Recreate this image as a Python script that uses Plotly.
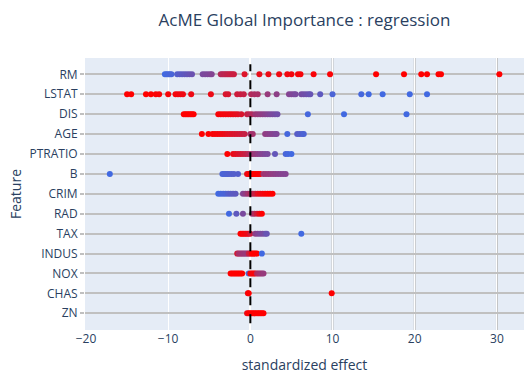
import plotly.graph_objects as go

# Feature order, bottom to top on the y axis
features = ["ZN", "CHAS", "NOX", "INDUS", "TAX", "RAD", "CRIM",
            "B", "PTRATIO", "AGE", "DIS", "LSTAT", "RM"]

# Standardized effect of each quantile, and the quantile itself (0 = low, 1 = high)
rm_effect = [-10.4, -10.2, -10.0, -9.8, -9.6, -8.9, -8.6, -8.3, -8.0, -7.7, -7.4, -7.1,
             -5.8, -5.5, -5.2, -4.9, -4.7, -3.6, -3.4, -3.2, -3.0, -2.8, -2.6, -2.4,
             -2.2, -2.0, -0.7, 1.1, 2.2, 3.5, 4.5, 5.0, 5.8, 6.1, 7.7, 9.7, 15.3,
             18.7, 20.8, 21.5, 22.9, 23.2, 30.3]
rm_q = [0.0, 0.01, 0.02, 0.03, 0.04, 0.1, 0.12, 0.14, 0.16, 0.18, 0.2, 0.22,
        0.3, 0.31, 0.32, 0.33, 0.35, 0.6, 0.62, 0.64, 0.65, 0.67, 0.68, 0.7,
        0.71, 0.72, 0.82, 0.88, 0.9, 0.92, 0.93, 0.94, 0.95, 0.96, 0.97, 0.98, 1.0,
        1.0, 1.0, 1.0, 1.0, 1.0, 1.0]

lstat_effect = [-15.0, -14.5, -12.7, -12.1, -11.5, -11.1, -10.0, -9.1, -8.8, -8.5, -8.2,
                -7.2, -4.8, -3.0, -2.7, -1.6, -1.2, -0.8, 0.1, 0.5, 0.9, 2.1, 3.2,
                4.7, 5.0, 5.3, 5.5, 6.2, 6.5, 6.8, 7.1, 7.3, 8.5, 10.0, 13.5, 14.4,
                16.1, 19.4, 21.5]
lstat_q = [1.0, 1.0, 1.0, 1.0, 0.98, 0.97, 0.96, 0.95, 0.94, 0.93, 0.92,
           0.91, 0.9, 0.8, 0.79, 0.74, 0.72, 0.7, 0.6, 0.57, 0.55, 0.45, 0.4,
           0.35, 0.33, 0.32, 0.3, 0.28, 0.26, 0.24, 0.22, 0.2, 0.15, 0.05, 0.02, 0.0,
           0.0, 0.0, 0.0]

dis_effect = [-8.1, -7.9, -7.7, -7.5, -7.3, -7.1, -6.9, -3.9, -3.6, -3.3, -3.0, -2.7,
              -2.4, -2.1, -1.8, -1.5, -1.1, -0.4, -0.1, 0.2, 0.6, 0.9, 1.2, 1.5, 1.8,
              2.1, 2.4, 2.7, 3.0, 3.3, 7.0, 11.4, 19.0]
dis_q = [1.0, 1.0, 1.0, 1.0, 1.0, 1.0, 1.0, 0.97, 0.96, 0.95, 0.94, 0.93,
         0.92, 0.9, 0.88, 0.86, 0.8, 0.7, 0.65, 0.6, 0.5, 0.47, 0.44, 0.41, 0.38,
         0.35, 0.32, 0.3, 0.28, 0.25, 0.02, 0.0, 0.0]

age_effect = [-5.9, -5.1, -4.6, -4.3, -4.0, -3.7, -3.4, -3.1, -2.8, -2.5, -2.2, -1.9,
              -1.6, -1.3, -1.0, -0.7, 0.0, 0.3, 1.8, 2.1, 2.4, 2.7, 3.0, 3.2, 4.5,
              5.7, 6.0, 6.3, 6.5]
age_q = [1.0, 1.0, 0.98, 0.96, 0.95, 0.94, 0.92, 0.9, 0.86, 0.84, 0.82, 0.8,
         0.78, 0.76, 0.73, 0.7, 0.55, 0.52, 0.42, 0.4, 0.38, 0.36, 0.34, 0.32, 0.02,
         0.12, 0.1, 0.08, 0.06]

ptratio_effect = [-2.8, -2.1, -1.8, -1.5, -1.2, -0.9, -0.6, -0.3, 0.0, 0.3, 0.6, 0.9,
                  1.2, 1.5, 1.8, 2.1, 3.0, 4.3, 4.6, 5.0]
ptratio_q = [1.0, 0.9, 0.86, 0.82, 0.78, 0.74, 0.7, 0.65, 0.55, 0.5, 0.46, 0.42,
             0.38, 0.35, 0.32, 0.3, 0.18, 0.04, 0.02, 0.0]

b_effect = [-17.1, -3.4, -3.2, -3.0, -2.8, -2.6, -2.3, -2.0, -1.5, -0.4, -0.2, 0.0,
            0.2, 0.4, 0.6, 0.8, 1.0, 1.2, 1.6, 1.9, 2.2, 2.5, 2.8, 3.1, 3.4, 3.7,
            4.0, 4.3]
b_q = [0.0, 0.05, 0.05, 0.06, 0.07, 0.08, 0.09, 0.1, 0.1, 0.9, 0.95, 1.0,
       1.0, 1.0, 1.0, 1.0, 0.98, 0.96, 0.5, 0.48, 0.46, 0.44, 0.42, 0.4, 0.38, 0.37,
       0.36, 0.35]

crim_effect = [-3.9, -3.6, -3.3, -3.0, -2.7, -2.4, -2.1, -1.8, -0.9, -0.6, -0.3, 0.0,
               0.3, 0.6, 0.9, 1.2, 1.5, 1.8, 2.1, 2.4, 2.7]
crim_q = [0.0, 0.02, 0.04, 0.05, 0.1, 0.12, 0.14, 0.15, 0.35, 0.42, 0.5, 0.58,
          0.65, 0.72, 0.85, 0.9, 0.93, 0.96, 0.98, 1.0, 1.0]

rad_effect = [-2.6, -1.7, -0.9, 0.2, 0.5, 0.8, 1.1, 1.4]
rad_q = [0.0, 0.15, 0.3, 0.45, 0.6, 0.75, 0.9, 1.0]

tax_effect = [-1.2, -1.0, -0.8, -0.6, -0.4, -0.2, 0.0, 0.6, 0.9, 1.2, 1.5, 1.8, 2.0, 6.2]
tax_q = [1.0, 1.0, 0.95, 0.95, 0.9, 0.9, 0.75, 0.4, 0.35, 0.3, 0.3, 0.25, 0.2, 0.0]

indus_effect = [-1.6, -1.4, -1.2, -1.0, -0.8, -0.6, -0.4, -0.2, 0.0, 0.2, 0.4, 0.6, 0.8, 1.4]
indus_q = [0.75, 0.55, 0.52, 0.5, 0.48, 0.46, 0.45, 0.7, 0.75, 1.0, 1.0, 1.0, 1.0, 0.0]

nox_effect = [-2.4, -2.2, -2.0, -1.8, -1.6, -1.4, -1.2, -1.0, -0.2, 0.0, 0.2, 0.4, 0.6,
              0.8, 1.0, 1.2, 1.4, 1.6]
nox_q = [1.0, 1.0, 1.0, 1.0, 1.0, 1.0, 1.0, 1.0, 0.05, 0.95, 0.95, 0.95, 0.95,
         0.6, 0.55, 0.5, 0.48, 0.45]

chas_effect = [-0.3, -0.2, 9.9]
chas_q = [0.9, 1.0, 1.0]

zn_effect = [-0.4, -0.2, 0.0, 0.2, 0.4, 0.6, 0.8, 1.0, 1.2, 1.4, 1.6]
zn_q = [0.9, 1.0, 1.0, 1.0, 1.0, 1.0, 1.0, 1.0, 1.0, 1.0, 1.0]

rows = [
    ("RM", rm_effect, rm_q), ("LSTAT", lstat_effect, lstat_q),
    ("DIS", dis_effect, dis_q), ("AGE", age_effect, age_q),
    ("PTRATIO", ptratio_effect, ptratio_q), ("B", b_effect, b_q),
    ("CRIM", crim_effect, crim_q), ("RAD", rad_effect, rad_q),
    ("TAX", tax_effect, tax_q), ("INDUS", indus_effect, indus_q),
    ("NOX", nox_effect, nox_q), ("CHAS", chas_effect, chas_q),
    ("ZN", zn_effect, zn_q),
]

xs, ys, cs = [], [], []
for name, eff, q in rows:
    xs += eff
    ys += [name] * len(eff)
    cs += q

grid_grey = "#c0c0c0"

fig = go.Figure()
fig.add_trace(go.Scatter(
    x=xs, y=ys, mode="markers",
    marker=dict(size=6, color=cs, cmin=0, cmax=1,
                colorscale=[[0, "#4169E1"], [1, "#FF0000"]],
                showscale=False, line=dict(width=0)),
    showlegend=False,
))

# Grey guides at the positive decades
for v in [10, 20, 30]:
    fig.add_shape(type="line", xref="x", yref="paper", x0=v, x1=v, y0=0, y1=1,
                  line=dict(color=grid_grey, width=2), layer="below")

# Dashed reference line at zero effect
fig.add_shape(type="line", xref="x", yref="y", x0=0, x1=0,
              y0=-0.5, y1=len(features) - 0.5,
              line=dict(color="black", width=2, dash="dash"), layer="above")

fig.update_layout(
    width=524, height=374,
    template="plotly",
    margin=dict(l=85, r=0, t=58, b=44),
    title=dict(text="AcME Global Importance : regression",
               x=0.5, xref="paper", xanchor="center",
               y=1 - 20 / 374, yref="container", yanchor="middle",
               font=dict(size=17, color="#2a3f5f")),
    xaxis=dict(title=dict(text="standardized effect", font=dict(size=14)),
               range=[-20.12, 33.3], tickvals=[-20, -10, 0, 10, 20, 30],
               tickfont=dict(size=12), automargin=False),
    yaxis=dict(title=dict(text="Feature", font=dict(size=14), standoff=4),
               categoryorder="array", categoryarray=features,
               range=[-0.84, 12.82],
               gridcolor=grid_grey, gridwidth=1.6,
               ticks="outside", ticklen=4, tickcolor=grid_grey, tickwidth=1.6,
               tickfont=dict(size=12), automargin=False),
)

fig.write_html("out.html")
